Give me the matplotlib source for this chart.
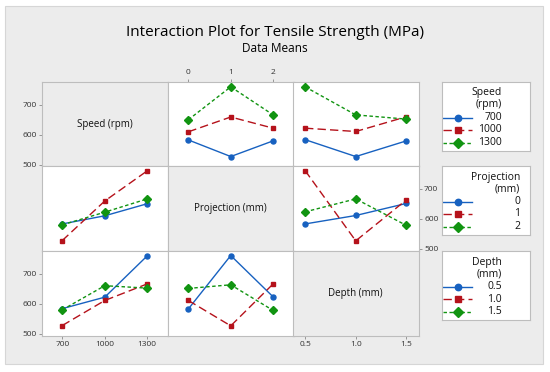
import numpy as np
import matplotlib.pyplot as plt
from matplotlib.patches import Rectangle
from matplotlib.lines import Line2D

plt.rcParams['font.family'] = ['Open Sans', 'DejaVu Sans']

# factor levels
speed = [700, 1000, 1300]
projection = [0, 1, 2]
depth = [0.5, 1.0, 1.5]

speed_labels = ['700', '1000', '1300']
projection_labels = ['0', '1', '2']
depth_labels = ['0.5', '1.0', '1.5']

# data means of tensile strength (MPa); rows = first factor, cols = second factor
speed_by_projection = [[583, 528, 580],
                       [610, 659, 622],
                       [650, 759, 666]]
speed_by_depth = [[584, 528, 580],
                  [622, 611, 660],
                  [759, 666, 652]]
projection_by_depth = [[583, 611, 651],
                       [760, 527, 663],
                       [623, 666, 578]]

factor_names = ['Speed (rpm)', 'Projection (mm)', 'Depth (mm)']
legend_titles = ['Speed\n(rpm)', 'Projection\n(mm)', 'Depth\n(mm)']
levels = [speed, projection, depth]
level_labels = [speed_labels, projection_labels, depth_labels]
xlims = [(557, 1443), (-0.48, 2.48), (0.381, 1.619)]
ylim = (495, 775)

colors = ['#1761c0', '#b5121b', '#119411']
styles = [dict(ls='-', marker='o', ms=3.6),
          dict(ls=(0, (6, 3)), marker='s', ms=3.4),
          dict(ls=(0, (2.5, 1.8)), marker='D', ms=3.8)]

BG = '#ececec'
EDGE = '#bdbdbd'
TICK = '#333333'


def table(i, j):
    """means with levels of factor i as lines, factor j on the x axis"""
    t = {(0, 1): speed_by_projection, (0, 2): speed_by_depth,
         (1, 2): projection_by_depth}
    if (i, j) in t:
        return np.array(t[(i, j)])
    return np.array(t[(j, i)]).T


W, H = 550, 372
fig = plt.figure(figsize=(W / 100, H / 100), dpi=100)
fig.patch.set_facecolor('white')
fig.patches.append(Rectangle((5 / W, 1 - 364 / H), 538 / W, 358 / H,
                             transform=fig.transFigure, facecolor=BG,
                             edgecolor='#d6d6d6', lw=0.8, zorder=-10))

fig.text(0.5, 1 - 32 / H, 'Interaction Plot for Tensile Strength (MPa)',
         ha='center', va='center', fontsize=11, color='#000000')
fig.text(0.5, 1 - 48.5 / H, 'Data Means', ha='center', va='center',
         fontsize=8.5, color='#000000')

col_x = [42, 168, 293]
row_y = [82, 166, 251]
pw, ph = 125.5, 84.5

for i in range(3):
    for j in range(3):
        ax = fig.add_axes([col_x[j] / W, 1 - (row_y[i] + ph) / H, pw / W, ph / H])
        ax.set_xlim(xlims[j])
        ax.set_ylim(ylim)
        for s in ax.spines.values():
            s.set_color(EDGE)
            s.set_linewidth(0.8)
        ax.tick_params(length=2.5, width=0.6, color='#888888', labelsize=6,
                       labelcolor=TICK, pad=1.5)
        ax.set_xticks(levels[j])
        ax.set_xticklabels(level_labels[j])
        ax.set_yticks([500, 600, 700])
        # tick placement like the Minitab matrix
        ax.tick_params(bottom=False, labelbottom=False, top=False, labeltop=False,
                       left=False, labelleft=False, right=False, labelright=False)
        if i == 0 and j == 1:
            ax.tick_params(top=True, labeltop=True)
        if i == 2 and j in (0, 2):
            ax.tick_params(bottom=True, labelbottom=True)
        if j == 0 and i in (0, 2):
            ax.tick_params(left=True, labelleft=True)
        if i == 1 and j == 2:
            ax.tick_params(right=True, labelright=True)

        if i == j:
            ax.set_facecolor(BG)
            ax.text(0.5, 0.5, factor_names[i], transform=ax.transAxes,
                    ha='center', va='center', fontsize=7, color='#111111')
            continue
        ax.set_facecolor('white')
        m = table(i, j)
        for k in range(3):
            ax.plot(levels[j], m[k], color=colors[k], lw=1.0,
                    **styles[k], zorder=3, clip_on=False)

# legends, one per row
lx0, lw_ = 442, 88
label_right = [502, 520, 502]
for i in range(3):
    lax = fig.add_axes([lx0 / W, 1 - (row_y[i] + 68.5) / H, lw_ / W, 68.5 / H])
    lax.set_xlim(0, lw_)
    lax.set_ylim(68.5, 0)
    lax.set_xticks([])
    lax.set_yticks([])
    lax.set_facecolor('white')
    for s in lax.spines.values():
        s.set_color(EDGE)
        s.set_linewidth(0.8)
    tx = label_right[i] - lx0
    title1, title2 = legend_titles[i].split('\n')
    lax.text(tx, 11, title1, ha='right', va='center', fontsize=7.5, color='#111111')
    lax.text(tx, 23, title2, ha='right', va='center', fontsize=7.5, color='#111111')
    for k in range(3):
        yk = 35.5 + 12.5 * k
        lax.add_line(Line2D([1, 30], [yk, yk], color=colors[k], lw=1.0,
                            linestyle=styles[k]['ls']))
        lax.add_line(Line2D([15.5], [yk], color=colors[k], marker=styles[k]['marker'],
                            ms=styles[k]['ms'] + 1.0, lw=0))
        lax.text(tx, yk, level_labels[i][k], ha='right', va='center', fontsize=7.5,
                 color='#111111')

fig.savefig('out.png', dpi=100, facecolor=fig.get_facecolor())
